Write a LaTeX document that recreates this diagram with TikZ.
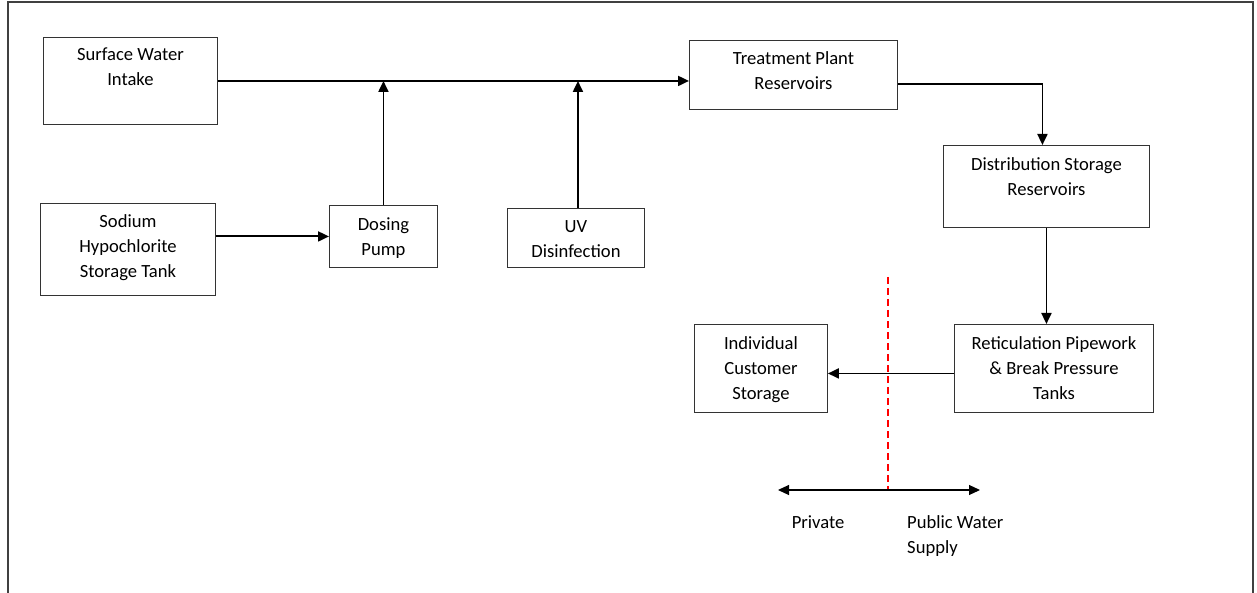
\documentclass[tikz,border=0pt]{standalone}
\usepackage{fontspec}
\setmainfont{Carlito}
\usetikzlibrary{arrows.meta,positioning}

\begin{document}
\begin{tikzpicture}[x=1pt,y=-1pt,>={Triangle[length=11pt,width=10pt]},
    box/.style={draw=black!80,line width=0.9pt,inner sep=0pt,anchor=north west},
    txt/.style={anchor=north,align=center,inner sep=0pt,execute at begin node=\strut,
      font=\fontsize{18.6}{25}\selectfont},
    flow/.style={->,line width=1.9pt}]
  \useasboundingbox (0,0) rectangle (1257,593);
  \draw[line width=1.6pt,black!75] (8,593)--(8,2)--(1253,2)--(1253,593);
  \node[box,minimum width=174,minimum height=87] (intake) at (43,37) {};
  \node[box,minimum width=175,minimum height=92] (sodium) at (40,203) {};
  \node[box,minimum width=108,minimum height=62] (dosing) at (329,205) {};
  \node[box,minimum width=137,minimum height=59] (uv) at (507,208) {};
  \node[box,minimum width=208,minimum height=69] (plant) at (689,40) {};
  \node[box,minimum width=206,minimum height=82] (dist) at (943,145) {};
  \node[box,minimum width=199,minimum height=88] (retic) at (954,324) {};
  \node[box,minimum width=133,minimum height=88] (cust) at (694,324) {};
  \node[txt] (intake-t) at ([yshift=-11pt]intake.north) {Surface Water\\Intake};
  \node[txt] (sodium-t) at ([yshift=-11pt]sodium.north) {Sodium\\Hypochlorite\\Storage Tank};
  \node[txt] (dosing-t) at ([yshift=-13pt]dosing.north) {Dosing\\Pump};
  \node[txt] (uv-t) at ([yshift=-12.5pt]uv.north) {UV\\Disinfection};
  \node[txt] (plant-t) at ([yshift=-11pt]plant.north) {Treatment Plant\\Reservoirs};
  \node[txt] (dist-t) at ([yshift=-12.5pt]dist.north) {Distribution Storage\\Reservoirs};
  \node[txt] (retic-t) at ([yshift=-12.5pt]retic.north) {Reticulation Pipework\\\& Break Pressure\\Tanks};
  \node[txt] (cust-t) at ([yshift=-12.5pt]cust.north) {Individual\\Customer\\Storage};
  \draw[flow] (intake.east) -- (intake.east -| plant.west);
  \draw[flow] (sodium.east |- dosing.west) -- (dosing.west);
  \draw[flow] (dosing.north) -- (dosing.north |- intake.east);
  \draw[flow] ([xshift=2pt]uv.north) -- ([xshift=2pt]uv.north |- intake.east);
  \draw[flow] ([yshift=-9.5pt]plant.east) -| ([xshift=-4pt]dist.north);
  \draw[flow] (dist.south) -- (dist.south |- retic.north);
  \draw[flow] ([yshift=-5pt]retic.west) -- ([yshift=-5pt]retic.west -| cust.east);
  \coordinate (mid) at (888,490);
  \coordinate (lim) at (888,277);
  \coordinate (privend) at (778,490);
  \coordinate (pubend) at (980,490);
  \draw[red,line width=1.4pt,dash pattern=on 7pt off 4pt] (lim) -- (mid);
  \draw[<->,line width=1.1pt] (privend) -- (pubend);
  \node[txt] (private) at (818,510.5) {Private};
  \node[txt,anchor=north west,align=left] (public) at (907,515.5) {Public Water\\Supply};
\end{tikzpicture}
\end{document}
